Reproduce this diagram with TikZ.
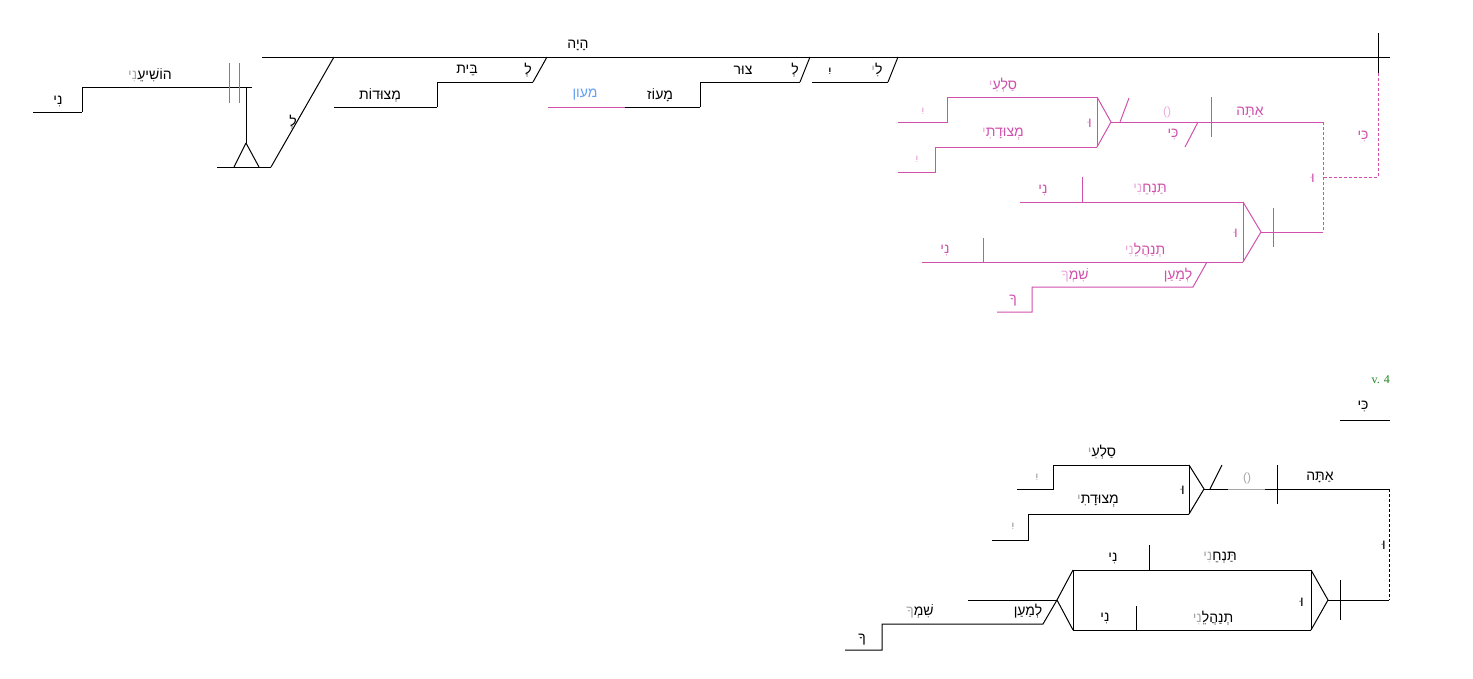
\documentclass[tikz,border=0pt]{standalone}
\usepackage{fontspec}
\newfontfamily\hebfont[Script=Hebrew]{Liberation Sans}
\newfontfamily\serfont{Liberation Serif}
\TeXXeTstate=1
\definecolor{pk}{RGB}{208,80,172}
\definecolor{lpk}{RGB}{236,170,220}
\definecolor{gry}{RGB}{165,165,165}
\definecolor{blu}{RGB}{100,160,240}
\definecolor{grn}{RGB}{30,130,30}
\newcommand\hb[1]{\beginR #1\endR}
\newcommand\hw[3]{{\color{#3}\hb{#2}}\hb{#1}}
\tikzset{
  txt/.style={inner sep=0pt, font=\hebfont\fontsize{14}{16}\selectfont},
  ln/.style={line width=1pt, line cap=butt},
  pln/.style={ln, draw=pk},
  dsh/.style={ln, dashed, dash pattern=on 3pt off 2pt},
}
\begin{document}
\begin{tikzpicture}[x=1pt,y=-1pt]
\useasboundingbox (0,0) rectangle (1473,678);
% ================= TOP (black) =================
\draw[ln] (262,57) -- (1390,57);
\draw[ln] (1378,33) -- (1378,73);
\node[txt] (haya) at (578,45) {\hb{הָיָה}};
% subject
\draw[ln] (334,57) -- (271,167);
\draw[ln] (217,167) -- (271,167);
\draw[ln] (246,143) -- (234,167);
\draw[ln] (246,143) -- (259,167);
\draw[ln] (246,87) -- (246,143);
\draw[ln] (82,87) -- (252,87);
\draw[ln] (82,87) -- (82,112);
\draw[ln] (33,112) -- (82,112);
\draw[ln, draw=gray] (229,63) -- (229,103);
\draw[ln, draw=gray] (239,63) -- (239,103);
\node[txt] (le1) at (293,122) {\hb{לְ}};
\node[txt] (hoshia) at (150,75) {\hw{הוֹשִׁיעֵ}{נִי}{gry}};
\node[txt] (ni1) at (58,101) {\hb{נִי}};
% le-beit metsudot
\draw[ln] (334,107) -- (437,107);
\draw[ln] (437,107) -- (437,82);
\draw[ln] (437,82) -- (533,82);
\draw[ln] (533,82) -- (547,57);
\node[txt] (metsudot) at (380,95) {\hb{מְצוּדוֹת}};
\node[txt] (beit) at (467,70) {\hb{בֵּית}};
\node[txt] (le2) at (528,70) {\hb{לְ}};
% le-tsur maoz
\draw[ln, draw=pk] (548,107) -- (625,107);
\draw[ln] (625,107) -- (700,107);
\draw[ln] (700,107) -- (700,82);
\draw[ln] (700,82) -- (800,82);
\draw[ln] (800,82) -- (810,57);
\node[txt, text=blu] (maon) at (585,95) {\hb{מעון}};
\node[txt] (maoz) at (660,95) {\hb{מָעוֹז}};
\node[txt] (tsur) at (743,70) {\hb{צוּר}};
\node[txt] (le3) at (795,70) {\hb{לְ}};
% li
\draw[ln] (812,82) -- (888,82);
\draw[ln] (888,82) -- (898,57);
\node[txt] (yi1) at (830,72) {\hb{יִ}};
\node[txt] (li) at (877,70) {\hw{לִ}{י}{gry}};
% ================= TOP (pink) =================
\draw[pln] (898,122) -- (947,122) -- (947,97) -- (1097,97);
\draw[pln] (1097,97) -- (1111,122) -- (1097,147);
\draw[pln] (1097,97) -- (1097,147);
\draw[pln] (1097,147) -- (935,147) -- (935,172) -- (898,172);
\node[txt, text=pk] (sali) at (1003,85) {\hw{סַלְעִ}{י}{lpk}};
\node[txt, text=lpk] (yi2) at (923,112) {\hb{יִ}};
\node[txt, text=pk] (metsudati) at (1003,134) {\hw{מְצוּדָתִ}{י}{lpk}};
\node[txt, text=lpk] (yi3) at (917,160) {\hb{יִ}};
\node[txt, text=pk] (u1) at (1090,123) {\hb{וּ}};
\draw[pln] (1111,122) -- (1323,122);
\draw[pln] (1120,122) -- (1129,98);
\node[txt, text=lpk, font=\hebfont\fontsize{12}{14}\selectfont] (par1) at (1167,112) {()};
\draw[pln] (1211,97) -- (1211,137);
\node[txt, text=pk] (ki1) at (1173,134) {\hb{כִּי}};
\draw[pln] (1198,122) -- (1185,147);
\node[txt, text=pk] (ata1) at (1250,112) {\hb{אַתָּה}};
\draw[pln, dsh] (1323,122) -- (1323,232);
\draw[pln, dsh] (1378,73) -- (1378,177) -- (1323,177);
\node[txt, text=pk] (ki2) at (1363,136) {\hb{כִּי}};
\node[txt, text=pk] (u2) at (1313,178) {\hb{וּ}};
\draw[pln] (1261,232) -- (1323,232);
\draw[pln] (1273,208) -- (1273,247);
\draw[pln] (1243,202) -- (1261,232) -- (1243,262);
\draw[pln] (1243,202) -- (1243,262);
\draw[pln] (1020,202) -- (1243,202);
\draw[pln] (1082,177) -- (1082,202);
\node[txt, text=pk] (ni2) at (1043,190) {\hb{נִי}};
\node[txt, text=pk] (tanheni1) at (1150,190) {\hw{תַּנְחֵ}{נִי}{lpk}};
\draw[pln] (922,262) -- (1243,262);
\draw[pln] (983,238) -- (983,262);
\node[txt, text=pk] (ni3) at (945,250) {\hb{נִי}};
\node[txt, text=pk] (tenahaleni1) at (1145,250) {\hw{תְנַהֲלֵ}{נִי}{lpk}};
\node[txt, text=pk] (u3) at (1236,233) {\hb{וּ}};
\draw[pln] (1207,262) -- (1193,287) -- (1032,287) -- (1032,312) -- (997,312);
\node[txt, text=pk] (lemaan1) at (1178,275) {\hb{לְמַעַן}};
\node[txt, text=pk] (shimkha1) at (1075,275) {\hw{שִׁמְ}{ךָ}{lpk}};
\node[txt, text=pk] (kha1) at (1013,301) {\hb{ךָ}};
% ================= BOTTOM (v. 4) =================
\node[inner sep=0pt, text=grn, font=\serfont\fontsize{12}{14}\selectfont, anchor=east] (v4) at (1390,380) {v. 4};
\node[txt] (ki3) at (1363,406) {\hb{כִּי}};
\draw[ln] (1340,420) -- (1390,420);
\draw[ln] (1017,489) -- (1053,489) -- (1053,465) -- (1189,465);
\draw[ln] (1189,465) -- (1204,489) -- (1189,514);
\draw[ln] (1189,465) -- (1189,514);
\draw[ln] (1189,514) -- (1028,514) -- (1028,540) -- (992,540);
\node[txt] (sali2) at (1102,452) {\hw{סַלְעִ}{י}{gry}};
\node[txt, text=gry] (yi4) at (1037,478) {\hb{יִ}};
\node[txt] (metsudati2) at (1098,501) {\hw{מְצוּדָתִ}{י}{gry}};
\node[txt, text=gry] (yi5) at (1013,527) {\hb{יִ}};
\node[txt] (u4) at (1183,490) {\hb{וּ}};
\draw[ln] (1204,489) -- (1228,489);
\draw[ln, draw=gry] (1228,489) -- (1265,489);
\draw[ln] (1265,489) -- (1389,489);
\draw[ln] (1210,489) -- (1222,465);
\node[txt, text=gry, font=\hebfont\fontsize{12}{14}\selectfont] (par2) at (1247,478) {()};
\draw[ln] (1277,465) -- (1277,504);
\node[txt] (ata2) at (1320,477) {\hb{אַתָּה}};
\draw[ln, dsh] (1389,489) -- (1389,600);
\node[txt] (u5) at (1384,545) {\hb{וּ}};
\draw[ln] (1328,600) -- (1389,600);
\draw[ln] (1340,580) -- (1340,620);
\draw[ln] (1073,570) -- (1311,570);
\draw[ln] (1073,630) -- (1311,630);
\draw[ln] (1073,570) -- (1073,630);
\draw[ln] (1311,570) -- (1311,630);
\draw[ln] (1311,570) -- (1328,600) -- (1311,630);
\draw[ln] (1073,570) -- (1057,600) -- (1073,630);
\draw[ln] (1149,545) -- (1149,570);
\node[txt] (ni4) at (1113,558) {\hb{נִי}};
\node[txt] (tanheni2) at (1220,558) {\hw{תַּנְחֵ}{נִי}{gry}};
\draw[ln] (1136,606) -- (1136,630);
\node[txt] (ni5) at (1105,618) {\hb{נִי}};
\node[txt] (tenahaleni2) at (1213,618) {\hw{תְנַהֲלֵ}{נִי}{gry}};
\node[txt] (u6) at (1302,602) {\hb{וּ}};
\draw[ln] (968,600) -- (1057,600);
\draw[ln] (1057,600) -- (1043,624) -- (882,624) -- (882,650) -- (845,650);
\node[txt] (lemaan2) at (1028,611) {\hb{לְמַעַן}};
\node[txt] (shimkha2) at (920,611) {\hw{שִׁמְ}{ךָ}{gry}};
\node[txt] (kha2) at (862,640) {\hb{ךָ}};
\end{tikzpicture}
\end{document}
